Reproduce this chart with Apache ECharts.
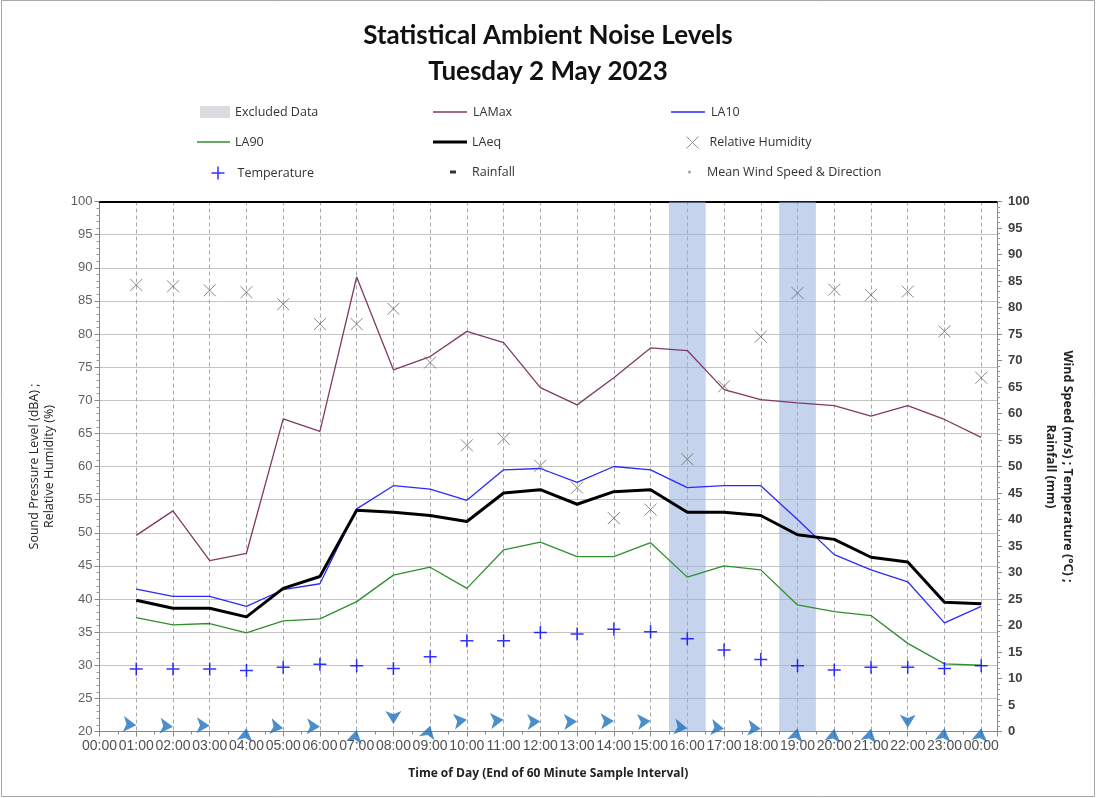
<!DOCTYPE html>
<html>
<head>
<meta charset="utf-8">
<script src="https://cdn.jsdelivr.net/npm/echarts@6/dist/echarts.min.js"></script>
<style>
  html, body { margin: 0; padding: 0; background: #ffffff; }
  #chart { width: 1096px; height: 798px; }
</style>
</head>
<body>
<div id="chart"></div>
<script>
// Hour labels along the time axis (end of each 60 minute interval)
const hourTickLabels = ['00:00','01:00','02:00','03:00','04:00','05:00','06:00','07:00','08:00','09:00','10:00','11:00','12:00',
  '13:00','14:00','15:00','16:00','17:00','18:00','19:00','20:00','21:00','22:00','23:00','00:00'];

// Interval end positions, in hours since midnight
const sampleHours = [1,2,3,4,5,6,7,8,9,10,11,12,13,14,15,16,17,18,19,20,21,22,23,24];

// Noise statistics, dBA
const laMax = [49.6,53.3,45.8,46.9,67.2,65.3,88.6,74.6,76.6,80.4,78.7,71.9,69.3,73.4,77.9,77.5,71.6,70.1,69.6,69.2,67.6,69.2,67.1,64.4];
const la10  = [41.5,40.4,40.4,38.9,41.4,42.3,53.6,57.1,56.6,54.9,59.5,59.7,57.6,60.0,59.5,56.8,57.1,57.1,52.0,46.7,44.4,42.6,36.4,38.9];
const laEq  = [39.8,38.6,38.6,37.3,41.6,43.4,53.4,53.1,52.6,51.7,56.0,56.5,54.3,56.2,56.5,53.1,53.1,52.6,49.7,49.0,46.3,45.6,39.5,39.3];
const la90  = [37.2,36.1,36.3,34.9,36.7,37.0,39.6,43.6,44.8,41.6,47.4,48.6,46.4,46.4,48.5,43.3,45.0,44.4,39.1,38.1,37.5,33.3,30.2,30.0];

// Weather, per interval
const humidity    = [87.4,87.2,86.6,86.3,84.5,81.5,81.5,83.8,75.7,63.2,64.2,60.1,56.8,52.2,53.5,61.1,72.1,79.6,86.2,86.7,85.9,86.4,80.4,73.4];
const temperature = [11.8,11.8,11.8,11.5,12.1,12.7,12.4,11.9,14.1,17.1,17.1,18.7,18.4,19.3,18.8,17.5,15.4,13.6,12.4,11.6,12.1,12.1,11.9,12.4];
const rainfall    = [0,0,0,0,0,0,0,0,0,0,0,0,0,0,0,0,0,0,0,0,0,0,0,0];
const windSpeed   = [1.2,0.9,1.1,0.6,0.6,0.9,0.3,1.4,1.1,2.2,2.2,1.9,1.9,2.0,2.0,0.6,0.5,0.5,0.6,0.5,0.5,0.7,0.6,0.6];
// Heading of the wind arrow, degrees clockwise from north
const windHeading = [95,95,92,8,100,92,12,180,15,82,85,88,88,88,85,98,98,95,12,8,12,180,8,8];

// Intervals flagged as excluded
const excludedHours = [16, 19];

const pairs = (vals) => sampleHours.map((h, i) => [h, vals[i]]);

const LABEL_FONT = 'Liberation Sans, Arial, sans-serif';
const TEXT_FONT = 'Open Sans, Lato, sans-serif';
const TITLE_FONT = 'Lato, Open Sans, sans-serif';

const X_SYMBOL = 'path://M0,0L10,10M10,0L0,10';
const PLUS_SYMBOL = 'path://M5,0L5,10M0,5L10,5';

const COLORS = {
  laMax: '#7e3a62', la10: '#2a2aff', la90: '#2f8f2f', laEq: '#000000',
  humidity: '#666c66', temperature: '#0000ff', wind: '#1f72bd'
};

// One legend block per entry so the nine entries sit on a 3 x 3 layout
function legendEntry(name, left, centerY, w, h, gap, item) {
  return {
    left: left, top: centerY - 8,
    itemWidth: w, itemHeight: h,
    padding: 0,
    selectedMode: false,
    textStyle: { fontFamily: TEXT_FONT, fontSize: 12.5, color: '#333', lineHeight: 16, padding: [0, 0, 0, gap] },
    data: [Object.assign({ name: name }, item || {})]
  };
}

const chart = echarts.init(document.getElementById('chart'), null, { renderer: 'canvas' });

chart.setOption({
  backgroundColor: '#ffffff',
  animation: false,
  title: {
    text: 'Statistical Ambient Noise Levels\nTuesday 2 May 2023',
    left: 'center',
    top: 13,
    textStyle: { fontFamily: TITLE_FONT, fontSize: 26, fontWeight: 'bold', color: '#111', lineHeight: 36 }
  },
  graphic: [{
    type: 'rect', silent: true,
    shape: { x: 1.5, y: 0.5, width: 1093, height: 796 },
    style: { fill: 'none', stroke: '#a6a6a6', lineWidth: 1 }
  }],
  legend: [
    legendEntry('Excluded Data', 200, 112, 30, 12, 0, { icon: 'rect', itemStyle: { color: '#dadce2' } }),
    legendEntry('LAMax', 433, 112, 34, 1.5, 1, { icon: 'rect', itemStyle: { color: COLORS.laMax } }),
    legendEntry('LA10', 671, 112, 34, 1.5, 1, { icon: 'rect', itemStyle: { color: COLORS.la10 } }),
    legendEntry('LA90', 197, 142, 33, 1.5, 0, { icon: 'rect', itemStyle: { color: COLORS.la90 } }),
    legendEntry('LAeq', 433, 142, 34, 3, 0, { icon: 'rect', itemStyle: { color: COLORS.laEq } }),
    legendEntry('Relative Humidity', 684, 142, 12, 12, 6, { icon: X_SYMBOL, itemStyle: { color: 'none', borderColor: '#777', borderWidth: 1 } }),
    legendEntry('Temperature', 209, 172, 13, 13, 8, { icon: PLUS_SYMBOL, itemStyle: { color: 'none', borderColor: COLORS.temperature, borderWidth: 1.5 } }),
    legendEntry('Rainfall', 450, 172, 6, 3, 11, { icon: 'rect', itemStyle: { color: '#000' } }),
    legendEntry('Mean Wind Speed & Direction', 688, 172, 3, 3, 11, { icon: 'circle', itemStyle: { color: '#888' } })
  ],
  grid: { left: 99.5, right: 99, top: 201.5, bottom: 66.5, containLabel: false },
  xAxis: [{
    type: 'value', position: 'bottom',
    min: 0, max: 24.43, interval: 1,
    name: 'Time of Day (End of 60 Minute Sample Interval)',
    nameLocation: 'middle', nameGap: 36,
    nameTextStyle: { fontFamily: TEXT_FONT, fontSize: 12, fontWeight: 'bold', color: '#222' },
    axisLine: { show: true, onZero: false, lineStyle: { color: '#888', width: 1 } },
    axisTick: { show: true, length: 5, lineStyle: { color: '#888' } },
    minorTick: { show: true, splitNumber: 2, length: 3, lineStyle: { color: '#888' } },
    axisLabel: {
      fontFamily: LABEL_FONT, fontSize: 14, color: '#505050', margin: 8,
      formatter: (v) => Number.isInteger(v) ? hourTickLabels[v] : ''
    },
    splitLine: { show: true, lineStyle: { color: '#a8a8a8', width: 1, type: [4, 3] } }
  }, {
    type: 'value', position: 'top',
    min: 0, max: 24.43,
    axisLine: { show: true, onZero: false, lineStyle: { color: '#000', width: 2 } },
    axisTick: { show: false }, axisLabel: { show: false }, splitLine: { show: false }
  }],
  yAxis: [{
    type: 'value', position: 'left',
    min: 20, max: 100, interval: 5,
    name: 'Sound Pressure Level (dBA) ;\nRelative Humidity (%)',
    nameLocation: 'middle', nameRotate: 90, nameGap: 43,
    nameTextStyle: { fontFamily: TEXT_FONT, fontSize: 12.5, color: '#222', lineHeight: 15 },
    axisLine: { show: true, onZero: false, lineStyle: { color: '#888' } },
    axisTick: { show: true, length: 5, lineStyle: { color: '#888' } },
    minorTick: { show: true, splitNumber: 5, length: 3, lineStyle: { color: '#999' } },
    axisLabel: { fontFamily: LABEL_FONT, fontSize: 13, color: '#606060', margin: 7 },
    splitLine: { show: true, lineStyle: { color: '#c4c4c4', width: 1 } }
  }, {
    type: 'value', position: 'right',
    min: 0, max: 100, interval: 5,
    name: 'Wind Speed (m/s) ; Temperature (°C) ;\nRainfall (mm)',
    nameLocation: 'middle', nameRotate: -90, nameGap: 45,
    nameTextStyle: { fontFamily: TEXT_FONT, fontSize: 12.5, fontWeight: 'bold', color: '#222', lineHeight: 17 },
    axisLine: { show: true, onZero: false, lineStyle: { color: '#888' } },
    axisTick: { show: true, length: 5, lineStyle: { color: '#888' } },
    minorTick: { show: true, splitNumber: 5, length: 3, lineStyle: { color: '#999' } },
    axisLabel: { fontFamily: LABEL_FONT, fontSize: 13, fontWeight: 'bold', color: '#404040', margin: 11 },
    splitLine: { show: false }
  }],
  series: [
    {
      name: 'Excluded Data', type: 'custom', xAxisIndex: 0, yAxisIndex: 0, z: 1,
      silent: true, clip: true,
      data: excludedHours.map((h) => [h]),
      encode: { x: 0 },
      renderItem: (params, api) => {
        const h = api.value(0);
        const a = api.coord([h - 0.5, 100]);
        const b = api.coord([h + 0.5, 20]);
        return {
          type: 'rect',
          shape: { x: a[0], y: a[1], width: b[0] - a[0], height: b[1] - a[1] },
          style: { fill: 'rgba(150,175,220,0.55)' }
        };
      }
    },
    {
      name: 'LAMax', type: 'line', yAxisIndex: 0, data: pairs(laMax),
      symbol: 'none', z: 3, lineStyle: { color: COLORS.laMax, width: 1.3 }, itemStyle: { color: COLORS.laMax }
    },
    {
      name: 'LA10', type: 'line', yAxisIndex: 0, data: pairs(la10),
      symbol: 'none', z: 3, lineStyle: { color: COLORS.la10, width: 1.3 }, itemStyle: { color: COLORS.la10 }
    },
    {
      name: 'LA90', type: 'line', yAxisIndex: 0, data: pairs(la90),
      symbol: 'none', z: 3, lineStyle: { color: COLORS.la90, width: 1.3 }, itemStyle: { color: COLORS.la90 }
    },
    {
      name: 'LAeq', type: 'line', yAxisIndex: 0, data: pairs(laEq),
      symbol: 'none', z: 4, lineStyle: { color: COLORS.laEq, width: 3 }, itemStyle: { color: COLORS.laEq }
    },
    {
      name: 'Relative Humidity', type: 'scatter', yAxisIndex: 0, data: pairs(humidity),
      symbol: X_SYMBOL, symbolSize: 12, z: 5,
      itemStyle: { color: 'none', borderColor: COLORS.humidity, borderWidth: 1 }
    },
    {
      name: 'Temperature', type: 'scatter', yAxisIndex: 1, data: pairs(temperature),
      symbol: PLUS_SYMBOL, symbolSize: 13, z: 5,
      itemStyle: { color: 'none', borderColor: COLORS.temperature, borderWidth: 1.5 }
    },
    {
      name: 'Rainfall', type: 'scatter', yAxisIndex: 1,
      data: pairs(rainfall).filter((p) => p[1] > 0),
      symbol: 'rect', symbolSize: [7, 2], z: 5,
      itemStyle: { color: '#000000' }
    },
    {
      name: 'Mean Wind Speed & Direction', type: 'scatter', yAxisIndex: 1, clip: false,
      data: sampleHours.map((h, i) => ({ value: [h, windSpeed[i]], symbolRotate: -windHeading[i] })),
      symbol: 'arrow', symbolSize: [12, 13], z: 6,
      itemStyle: { color: COLORS.wind }
    }
  ]
});
</script>
</body>
</html>
